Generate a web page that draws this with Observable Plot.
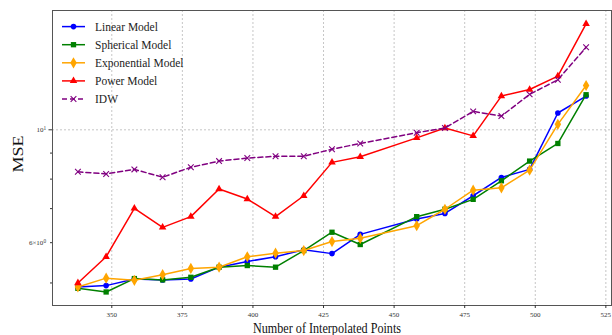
<!DOCTYPE html>
<html><head><meta charset="utf-8">
<script src="https://cdn.jsdelivr.net/npm/d3@7"></script>
<script src="https://cdn.jsdelivr.net/npm/@observablehq/plot@0.6"></script>
<style>body{margin:0;background:#fff}</style>
</head><body><div id="chart"></div>
<script>
// Data
const points = [338,348,358,368,378,388,398,408,418,428,438,458,468,478,488,498,508,518];
const linear = [4.91,4.94,5.09,5.07,5.09,5.37,5.51,5.63,5.81,5.71,6.23,6.68,6.85,7.42,8.06,8.36,10.79,11.65];
const spherical = [4.88,4.80,5.10,5.07,5.13,5.37,5.41,5.37,5.79,6.29,5.95,6.75,6.98,7.30,7.94,8.68,9.40,11.72];
const exponential = [4.91,5.11,5.06,5.19,5.34,5.37,5.63,5.72,5.79,6.03,6.12,6.48,6.98,7.61,7.69,8.33,10.25,12.22];
const power = [5.00,5.63,7.01,6.43,6.75,7.65,7.31,6.75,7.42,8.63,8.85,9.64,10.08,9.73,11.65,12.00,12.75,16.15];
const idw = [8.27,8.19,8.36,8.07,8.44,8.68,8.80,8.87,8.87,9.16,9.40,9.87,10.08,10.87,10.64,11.74,12.54,14.53];
const modelNames = ["Linear Model","Spherical Model","Exponential Model","Power Model","IDW"];
const xTicks = [350,375,400,425,450,475,500,525];
const yMajorTicks = [10];
const yLabeledMinor = [6];
const yMinorTicks = [5,7,8,9];
const yTickLabels = {6:"6×10^0", 10:"10^1"};
const xLabel = "Number of Interpolated Points";
const yLabel = "MSE";

const seriesValues = [linear, spherical, exponential, power, idw];
const styles = [
  {color:"#0000ff", symbol:"circle", r:2.8, dash:null},
  {color:"#008000", symbol:"square", r:3.0, dash:null},
  {color:"#ffa500", symbol:"diamond", r:3.4, dash:null},
  {color:"#ff0000", symbol:"triangle", r:2.8, dash:null},
  {color:"#800080", symbol:"times", r:2.7, dash:"5,3"}
];
const data = modelNames.flatMap((m,i)=>points.map((p,j)=>({model:m, x:p, y:seriesValues[i][j]})));

const seriesMarks = modelNames.flatMap((m,i)=>{
  const d = data.filter(r=>r.model===m);
  const s = styles[i];
  const lineOpts = {x:"x", y:"y", stroke:s.color, strokeWidth:1.5};
  if (s.dash) lineOpts.strokeDasharray = s.dash;
  const dot = s.symbol==="times"
    ? Plot.dot(d,{x:"x",y:"y",symbol:"times",stroke:s.color,strokeWidth:1.1,r:s.r})
    : Plot.dot(d,{x:"x",y:"y",symbol:s.symbol,fill:s.color,r:s.r});
  return [Plot.line(d, lineOpts), dot];
});

const gridStyle = {stroke:"#b8b8b8", strokeOpacity:1, strokeDasharray:"2,2", strokeWidth:0.8};

const chart = Plot.plot({
  width:612, height:335,
  marginLeft:52, marginRight:1, marginTop:10, marginBottom:30,
  style:{fontFamily:"'Liberation Serif', 'Times New Roman', serif", background:"#fff", color:"#333"},
  x:{domain:[329,527]},
  y:{type:"log", domain:[4.515,17.16]},
  marks:[
    Plot.gridX(xTicks, gridStyle),
    Plot.gridY(yMajorTicks, gridStyle),
    ...seriesMarks,
    Plot.frame({stroke:"#555", strokeWidth:1}),
    Plot.axisX(xTicks,{tickSize:3, tickPadding:4, fontSize:7, label:null, tickFormat:d=>String(d)}),
    Plot.axisY(yMajorTicks,{tickSize:3.5, tickPadding:3, fontSize:7, label:null, tickFormat:d=>yTickLabels[d]}),
    Plot.axisY(yLabeledMinor,{tickSize:2, tickPadding:4.5, fontSize:7, label:null, tickFormat:d=>yTickLabels[d]}),
    Plot.axisY(yMinorTicks,{tickSize:2, tickFormat:()=>"", label:null})
  ]
});
document.getElementById("chart").appendChild(chart);

const svg = d3.select(chart);
// superscripts
svg.selectAll("text").each(function(){
  const t = this.textContent;
  if (t.includes("^")) {
    const [b,e] = t.split("^");
    const s = d3.select(this);
    s.text(b);
    s.append("tspan").attr("dy","-0.45em").attr("font-size","0.75em").text(e);
  }
});

// axis titles
svg.append("text").attr("x",327).attr("y",333).attr("text-anchor","middle")
  .attr("font-size",15).attr("fill","#111")
  .attr("textLength",148).attr("lengthAdjust","spacingAndGlyphs").text(xLabel);
svg.append("text").attr("transform","translate(22.5,154) rotate(-90)").attr("text-anchor","middle")
  .attr("font-size",15).attr("fill","#111")
  .attr("textLength",37).attr("lengthAdjust","spacingAndGlyphs").text(yLabel);

// legend
const symMap = {circle:d3.symbolCircle, square:d3.symbolSquare, diamond:d3.symbolDiamond, triangle:d3.symbolTriangle, times:d3.symbolTimes};
const lg = svg.append("g").attr("text-anchor","start");
modelNames.forEach((m,i)=>{
  const y = 26.6 + i*18.1;
  const s = styles[i];
  const ln = lg.append("line").attr("x1",62).attr("x2",85).attr("y1",y).attr("y2",y)
    .attr("stroke",s.color).attr("stroke-width",1.5);
  if (s.dash) ln.attr("stroke-dasharray",s.dash);
  const p = lg.append("path").attr("transform",`translate(73.5,${y})`)
    .attr("d", d3.symbol(symMap[s.symbol], Math.PI*s.r*s.r)());
  if (s.symbol==="times") p.attr("fill","none").attr("stroke",s.color).attr("stroke-width",1.1);
  else p.attr("fill",s.color);
  lg.append("text").attr("x",95).attr("y",y).attr("dy","0.35em").attr("text-anchor","start")
    .attr("font-size",11.5).attr("fill","#222").text(m);
});
</script>
</body></html>
